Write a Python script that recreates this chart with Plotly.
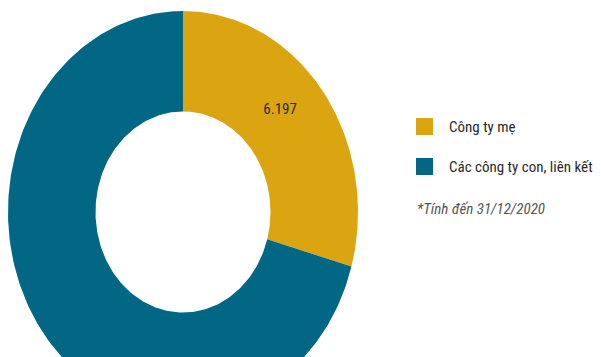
import numpy as np
import plotly.graph_objects as go

categories = ["Công ty mẹ", "Các công ty con, liên kết"]
values = [6.197, 14.9]
labels = ["6.197", ""]
colors = ["#DBA511", "#016784"]
note = "*Tính đến 31/12/2020"

HOLE = 0.5
total = sum(values)
FONT = "Liberation Sans Narrow, Roboto Condensed, Arial Narrow, Roboto"

W, H = 593, 349  # page body has an 8px margin

fig = go.Figure()
start = 0.0
for cat, val, col, lab in zip(categories, values, colors, labels):
    a0 = start / total * 2 * np.pi
    a1 = (start + val) / total * 2 * np.pi
    t = np.linspace(a0, a1, 240)
    xo, yo = np.sin(t), np.cos(t)
    xi, yi = HOLE * np.sin(t[::-1]), HOLE * np.cos(t[::-1])
    fig.add_trace(go.Scatter(
        x=np.concatenate([xo, xi, xo[:1]]),
        y=np.concatenate([yo, yi, yo[:1]]),
        fill="toself", fillcolor=col, mode="lines",
        line=dict(width=0, color=col), name=cat,
        hoverinfo="name", showlegend=False))
    if lab:
        am = (a0 + a1) / 2 - 0.09
        r = (1 + HOLE) / 2
        fig.add_trace(go.Scatter(
            x=[r * np.sin(am)], y=[r * np.cos(am)], mode="text",
            text=[lab], textfont=dict(family=FONT, size=15, color="#2a2a2a"),
            showlegend=False, hoverinfo="skip"))
    start += val

# legend
for i, (cat, col) in enumerate(zip(categories, colors)):
    y0 = 110 + i * 40
    fig.add_shape(type="rect", xref="paper", yref="paper",
                  x0=408 / W, x1=425 / W,
                  y0=1 - (y0 + 17) / H, y1=1 - y0 / H,
                  fillcolor=col, line=dict(width=0))
    fig.add_annotation(xref="paper", yref="paper", x=439 / W, y=1 - (y0 + 9) / H,
                       text=cat, showarrow=False, xanchor="left", yanchor="middle",
                       font=dict(family=FONT, size=15, color="#2a2a2a"))
fig.add_annotation(xref="paper", yref="paper", x=407 / W, y=1 - 201 / H,
                   text="<i>" + note + "</i>", showarrow=False, xanchor="left", yanchor="middle",
                   font=dict(family=FONT, size=15, color="#555555"))

cx, cy, sx, sy = 175, 204, 175, 201
fig.update_layout(
    width=W, height=H, margin=dict(l=0, r=0, t=0, b=0),
    paper_bgcolor="white", plot_bgcolor="white",
    xaxis=dict(range=[-cx / sx, (W - cx) / sx], visible=False, fixedrange=True),
    yaxis=dict(range=[-(H - cy) / sy, cy / sy], visible=False, fixedrange=True),
    showlegend=False,
)
fig.write_html("out.html")
